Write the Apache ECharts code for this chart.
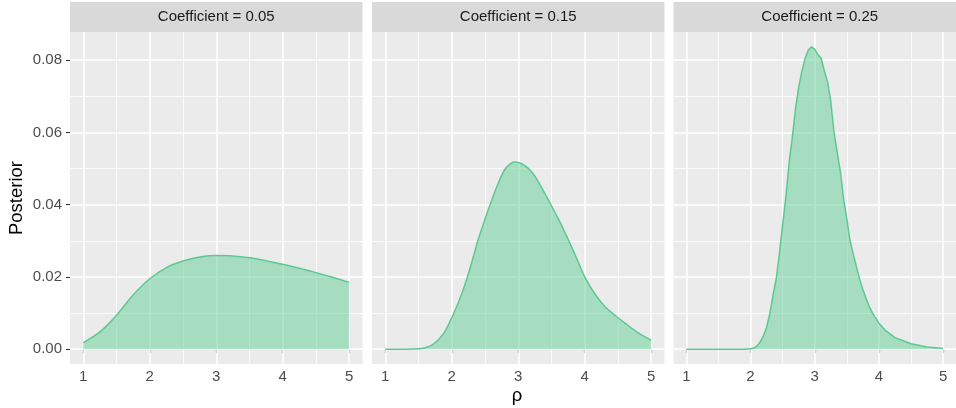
<!DOCTYPE html>
<html>
<head>
<meta charset="utf-8">
<script src="https://cdn.jsdelivr.net/npm/echarts@6/dist/echarts.min.js"></script>
<style>
  html, body { margin: 0; padding: 0; background: #fff; }
  #chart { width: 956px; height: 408px; }
</style>
</head>
<body>
<div id="chart"></div>
<script>
// facet labels
var facetLabels = ["Coefficient = 0.05", "Coefficient = 0.15", "Coefficient = 0.25"];

// Coefficient = 0.05
var rho1 = [1, 1.25, 1.5, 1.75, 2, 2.25, 2.5, 2.75, 3, 3.25, 3.5, 3.75, 4, 4.25, 4.5, 4.75, 5];
var post1 = [0.0018, 0.0048, 0.0094, 0.0150, 0.0195, 0.0226, 0.0244, 0.0255, 0.0259, 0.0258, 0.0253, 0.0245, 0.0235, 0.0224, 0.0212, 0.0199, 0.0185];

// Coefficient = 0.15
var rho2 = [1, 1.3, 1.5, 1.6, 1.7, 1.8, 1.9, 2, 2.1, 2.2, 2.3, 2.4, 2.5, 2.6, 2.7, 2.8, 2.9, 2.95, 3,
            3.1, 3.2, 3.3, 3.4, 3.5, 3.6, 3.7, 3.8, 3.9, 4, 4.1, 4.2, 4.3, 4.4, 4.5, 4.6, 4.8, 5];
var post2 = [0, 0, 0.0001, 0.0004, 0.0011, 0.0026, 0.0050, 0.0087, 0.0130, 0.0180, 0.0240, 0.0305, 0.0360, 0.0412, 0.0460, 0.0498, 0.0516, 0.0518, 0.0517,
             0.0508, 0.0491, 0.0464, 0.0431, 0.0397, 0.0362, 0.0324, 0.0284, 0.0242, 0.0200, 0.0168, 0.0141, 0.0119, 0.0102, 0.0087, 0.0073, 0.0046, 0.0025];

// Coefficient = 0.25
var rho3 = [1, 1.5, 1.9, 2, 2.05, 2.1, 2.15, 2.2, 2.25, 2.3, 2.35, 2.4, 2.45, 2.5, 2.55, 2.6, 2.65, 2.7, 2.75, 2.8, 2.85, 2.9, 2.95, 3,
            3.05, 3.1, 3.15, 3.2, 3.25, 3.3, 3.35, 3.4, 3.45, 3.5, 3.55, 3.6, 3.65, 3.7, 3.75, 3.8, 3.85, 3.9, 4, 4.1, 4.25, 4.5, 4.75, 5];
var post3 = [0, 0, 0, 0.0001, 0.0003, 0.0009, 0.0020, 0.0037, 0.0060, 0.0098, 0.0150, 0.0195, 0.0265, 0.0345, 0.0420, 0.0515, 0.0585, 0.0665, 0.0725, 0.0770, 0.0805, 0.0828, 0.0837, 0.0830,
             0.0815, 0.0805, 0.0770, 0.0740, 0.0685, 0.0600, 0.0545, 0.0490, 0.0415, 0.0360, 0.0300, 0.0263, 0.0228, 0.0193, 0.0165, 0.0140, 0.0118, 0.0100, 0.0072, 0.0052, 0.0032, 0.0015, 0.0006, 0.0002];

// ticks
var xTicks = [1, 2, 3, 4, 5];
var xMinor = [1.5, 2.5, 3.5, 4.5];
var yTicks = [0, 0.02, 0.04, 0.06, 0.08];
var yMinor = [0.01, 0.03, 0.05, 0.07];

var rhoList = [rho1, rho2, rho3];
var postList = [post1, post2, post3];
var smoothList = [0.3, 0.3, false];

var FONT = "Liberation Sans";
var panelLeft = [70, 372, 673.5];
var panelW = 292.5;
var panelTop = 32;
var panelH = 332;

var myChart = echarts.init(document.getElementById("chart"), null, { renderer: "canvas" });

var grids = [], xAxes = [], yAxes = [], series = [], graphics = [];

for (var i = 0; i < 3; i++) {
    grids.push({
        left: panelLeft[i], top: panelTop, width: panelW, height: panelH,
        show: true, backgroundColor: "#EBEBEB", borderWidth: 0
    });
    xAxes.push({
        type: "value", gridIndex: i, min: 0.8, max: 5.2,
        axisLine: { show: false },
        splitLine: { show: false },
        axisTick: { show: true, length: 4, customValues: xTicks, lineStyle: { color: "#333333", width: 1.1 } },
        axisLabel: { customValues: xTicks, color: "#4D4D4D", fontSize: 15, fontFamily: FONT, margin: 5 }
    });
    yAxes.push({
        type: "value", gridIndex: i, min: -0.0041, max: 0.0878,
        axisLine: { show: false },
        splitLine: { show: false },
        axisTick: { show: i === 0, length: 4, customValues: yTicks, lineStyle: { color: "#333333", width: 1.1 } },
        axisLabel: {
            show: i === 0, customValues: yTicks, color: "#4D4D4D", fontSize: 15, fontFamily: FONT, margin: 8,
            formatter: function (v) { return v.toFixed(2); }
        }
    });

    // grid lines, drawn under the filled area
    var lines = [];
    xMinor.forEach(function (v) { lines.push({ xAxis: v, lineStyle: { color: "#fff", width: 0.8, type: "solid" } }); });
    yMinor.forEach(function (v) { lines.push({ yAxis: v, lineStyle: { color: "#fff", width: 0.8, type: "solid" } }); });
    xTicks.forEach(function (v) { lines.push({ xAxis: v, lineStyle: { color: "#fff", width: 1.6, type: "solid" } }); });
    yTicks.forEach(function (v) { lines.push({ yAxis: v, lineStyle: { color: "#fff", width: 1.6, type: "solid" } }); });

    var pts = rhoList[i].map(function (r, k) { return [r, postList[i][k]]; });

    series.push({
        type: "line", xAxisIndex: i, yAxisIndex: i, z: 1,
        data: pts, showSymbol: false, symbol: "none",
        lineStyle: { opacity: 0 }, silent: true, animation: false,
        markLine: { z: 1, silent: true, symbol: ["none", "none"], label: { show: false }, animation: false, data: lines }
    });
    series.push({
        type: "line", xAxisIndex: i, yAxisIndex: i, z: 3,
        data: pts, showSymbol: false, symbol: "none",
        smooth: smoothList[i],
        lineStyle: { color: "#5EC892", width: 1.5 },
        areaStyle: { color: "#61CD95", opacity: 0.5 },
        animation: false
    });

    // facet strip
    graphics.push({
        type: "rect", shape: { x: panelLeft[i], y: 2, width: panelW, height: 30 },
        style: { fill: "#D9D9D9" }
    });
    graphics.push({
        type: "text", x: panelLeft[i] + panelW / 2, y: 17,
        style: { text: facetLabels[i], fill: "#1A1A1A", font: "15px " + FONT, align: "center", verticalAlign: "middle" }
    });
}

// axis titles
graphics.push({
    type: "text", x: 16.5, y: 198, rotation: Math.PI / 2,
    style: { text: "Posterior", fill: "#000", font: "18.5px " + FONT, align: "center", verticalAlign: "middle" }
});
graphics.push({
    type: "text", x: 517, y: 396,
    style: { text: "ρ", fill: "#000", font: "18.5px " + FONT, align: "center", verticalAlign: "middle" }
});

myChart.setOption({
    backgroundColor: "#ffffff",
    animation: false,
    grid: grids,
    xAxis: xAxes,
    yAxis: yAxes,
    series: series,
    graphic: graphics
});
</script>
</body>
</html>
